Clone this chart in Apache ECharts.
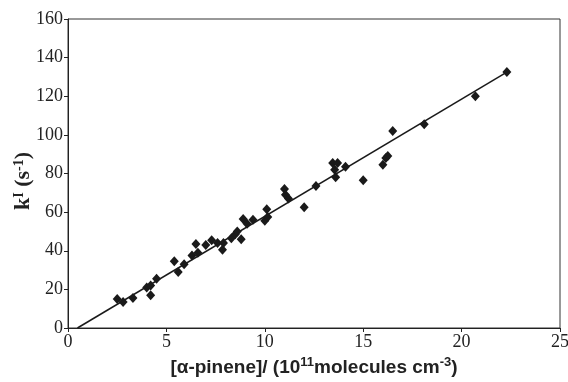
<!DOCTYPE html>
<html>
<head>
<meta charset="utf-8">
<script src="https://cdn.jsdelivr.net/npm/echarts@6/dist/echarts.min.js"></script>
<style>html,body{margin:0;padding:0;background:#fff}#c{width:568px;height:382px}</style>
</head>
<body>
<div id="c"></div>
<script>
const xValues = [2.5,2.8,3.3,4.0,4.2,4.2,4.5,5.4,5.6,5.9,6.3,6.5,6.6,7.0,7.3,7.6,7.85,7.9,8.3,8.5,8.6,8.8,8.9,9.1,9.4,10.0,10.1,10.15,11.0,11.05,11.2,12.0,12.6,13.45,13.55,13.6,13.7,14.1,15.0,16.0,16.15,16.25,16.5,18.1,20.7,22.3];
const yValues = [15,13.5,15.5,21,22,17,25.5,34.5,29,33,37.5,43.5,39,43,45.5,44,40.5,44,46.5,48.5,50,46,56.5,54,56,55.5,61.5,57.5,72,69,67,62.5,73.5,85.5,82,78,85.5,83.5,76.5,84.5,88,89,102,105.5,120,132.5];
const fitX = [0.48, 22.3];
const fitY = [0, 132.5];
const xTicks = [0,5,10,15,20,25];
const yTicks = [0,20,40,60,80,100,120,140,160];

const chart = echarts.init(document.getElementById('c'));
chart.setOption({
  animation:false,
  grid:{left:68,right:8,top:19,bottom:54,show:true,borderColor:'#333',borderWidth:1,containLabel:false,outerBoundsMode:'none'},
  xAxis:{type:'value',min:0,max:25,interval:5,
    axisLine:{onZero:false,lineStyle:{color:'#222',width:1}},
    axisTick:{show:true,length:4,lineStyle:{color:'#222'}},
    splitLine:{show:false},
    axisLabel:{color:'#222',fontFamily:'Liberation Serif',fontSize:18,margin:5},
    name:'{a|[α-pinene]/ (10}{s|11}{a|molecules cm}{s|-3}{a|)}',
    nameLocation:'middle',nameGap:28,
    nameTextStyle:{rich:{
      a:{fontFamily:'Liberation Sans',fontWeight:'bold',fontSize:19,color:'#222',verticalAlign:'bottom'},
      s:{fontFamily:'Liberation Sans',fontWeight:'bold',fontSize:13,color:'#222',verticalAlign:'top',padding:[0,0,8,0]}
    }}
  },
  yAxis:{type:'value',min:0,max:160,interval:20,
    axisLine:{lineStyle:{color:'#222',width:1}},
    axisTick:{show:true,length:4,lineStyle:{color:'#222'}},
    splitLine:{show:false},
    axisLabel:{color:'#222',fontFamily:'Liberation Serif',fontSize:18,margin:5},
    name:'{a|k}{s|I}{a| (s}{s|-1}{a|)}',
    nameLocation:'middle',nameGap:34,nameMoveOverlap:false,
    nameTextStyle:{padding:[0,15,0,0],rich:{
      a:{fontFamily:'Liberation Serif',fontWeight:'bold',fontSize:22,color:'#222',verticalAlign:'bottom'},
      s:{fontFamily:'Liberation Serif',fontWeight:'bold',fontSize:14,color:'#222',verticalAlign:'top',padding:[0,0,8,0]}
    }}
  },
  series:[
    {type:'line',data:fitX.map((x,i)=>[x,fitY[i]]),symbol:'none',lineStyle:{color:'#1a1a1a',width:1.5},z:1},
    {type:'scatter',data:xValues.map((x,i)=>[x,yValues[i]]),symbol:'diamond',symbolSize:[9,10],itemStyle:{color:'#1a1a1a',opacity:1},z:2}
  ]
});
</script>
</body>
</html>
